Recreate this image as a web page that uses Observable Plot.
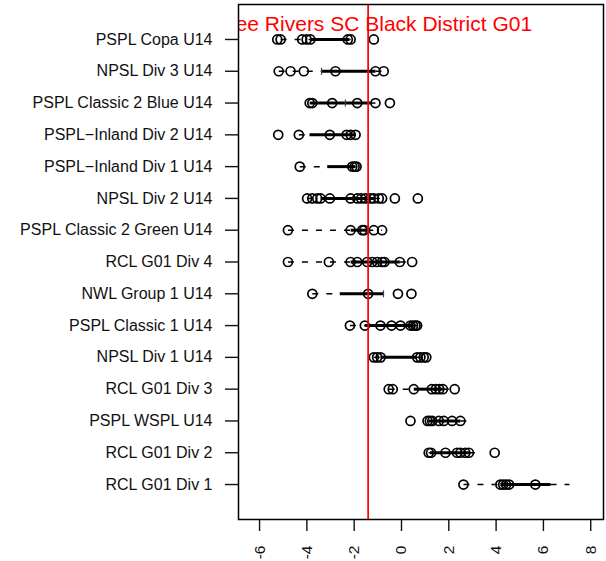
<!DOCTYPE html>
<html><head><meta charset="utf-8">
<script src="https://cdn.jsdelivr.net/npm/d3@7"></script>
<script src="https://cdn.jsdelivr.net/npm/@observablehq/plot@0.6"></script>
<style>body{margin:0;background:#fff}</style>
</head><body><div id="chart"></div>
<script>
const categories = ["PSPL Copa U14","NPSL Div 3 U14","PSPL Classic 2 Blue U14","PSPL−Inland Div 2 U14","PSPL−Inland Div 1 U14","NPSL Div 2 U14","PSPL Classic 2 Green U14","RCL G01 Div 4","NWL Group 1 U14","PSPL Classic 1 U14","NPSL Div 1 U14","RCL G01 Div 3","PSPL WSPL U14","RCL G01 Div 2","RCL G01 Div 1"];
const lo  = [-5.11, -5.19, -3.88, -4.34, -4.30, -3.99, -4.80, -4.80, -3.77, -2.18, -1.17, -0.54, 1.10, 1.15, 2.62];
const q1  = [-3.85, -3.38, -3.88, -3.89, -3.14, -3.42, -2.15, -2.15, -2.61, -1.55, -0.88, 0.52, 1.15, 1.20, 4.18];
const med = [null, -3.38, -2.37, null, null, null, null, null, -0.76, null, null, null, null, null, null];
const q3  = [-2.20, -1.10, -1.30, -1.94, -1.95, -1.17, -1.45, -0.07, -0.76, 0.45, 0.66, 1.75, 2.49, 2.85, 6.30];
const hi  = [-2.15, -0.75, -1.10, -1.94, -1.90, -0.82, -0.82, 0.45, -0.76, 0.66, 1.05, 2.25, 2.89, 3.30, 7.10];
const pts = [
  [-5.25, -5.11, -4.20, -4.01, -3.85, -2.27, -2.15, -1.17],
  [-5.19, -4.69, -4.13, -2.79, -1.10, -0.75],
  [-3.88, -3.77, -2.93, -1.87, -1.10, -0.49],
  [-5.21, -4.34, -3.03, -2.32, -2.15, -1.94],
  [-4.30, -2.08, -1.98, -1.90],
  [-3.99, -3.77, -3.56, -3.42, -3.03, -2.15, -1.87, -1.70, -1.52, -1.31, -1.17, -0.96, -0.82, -0.28, 0.69],
  [-4.80, -2.15, -1.66, -1.58, -1.17, -0.82],
  [-4.80, -3.07, -2.15, -1.87, -1.45, -1.24, -1.03, -0.82, -0.72, -0.07, 0.45],
  [-3.77, -1.41, -0.15, 0.42],
  [-2.18, -1.55, -0.89, -0.42, -0.04, 0.38, 0.49, 0.59, 0.66],
  [-1.17, -1.03, -0.88, 0.66, 0.80, 0.94, 1.05],
  [-0.54, -0.37, 0.52, 1.28, 1.45, 1.60, 1.75, 2.25],
  [0.38, 1.10, 1.20, 1.30, 1.58, 1.79, 2.14, 2.49],
  [1.15, 1.25, 1.86, 2.35, 2.49, 2.70, 2.85, 3.94],
  [2.62, 4.18, 4.30, 4.42, 4.55, 5.66]
];
const refValue = -1.41;
const title = "Three Rivers SC Black District G01";
const xTicks = [-6, -4, -2, 0, 2, 4, 6, 8];

const rows = categories.map((c, i) => ({cat: c, lo: lo[i], q1: q1[i], med: med[i], q3: q3[i], hi: hi[i]}));
const points = categories.flatMap((c, i) => pts[i].map(v => ({cat: c, v})));

// vertical tick symbol for the medians
const vtick = {draw(ctx, size) { const h = Math.sqrt(size / Math.PI); ctx.moveTo(0, -h); ctx.lineTo(0, h); }};

const chart = Plot.plot({
  width: 606, height: 561,
  marginLeft: 238, marginRight: 3, marginTop: 4, marginBottom: 42,
  style: {fontFamily: "'Liberation Sans', Arial, sans-serif", fontSize: "16px", color: "#111", background: "#fff"},
  x: {domain: [-6.89, 8.54]},
  y: {type: "point", domain: categories, padding: 1.1, round: false},
  marks: [
    Plot.axisY({tickSize: 13, tickPadding: 13, label: null, strokeWidth: 1.4}),
    Plot.axisX({ticks: xTicks, tickSize: 12, tickFormat: () => "", label: null, strokeWidth: 1.4}),
    Plot.text(xTicks, {x: d => d, text: d => String(d), frameAnchor: "bottom", dy: 26, rotate: -90, textAnchor: "end", lineAnchor: "middle", fontSize: 15.5, fill: "#111"}),
    Plot.link(rows, {x1: "lo", x2: "q1", y1: "cat", y2: "cat", stroke: "black", strokeWidth: 1.5, strokeDasharray: "6,8"}),
    Plot.link(rows, {x1: "q3", x2: "hi", y1: "cat", y2: "cat", stroke: "black", strokeWidth: 1.5, strokeDasharray: "6,8"}),
    Plot.link(rows, {x1: "q1", x2: "q3", y1: "cat", y2: "cat", stroke: "black", strokeWidth: 3}),
    Plot.dot(rows.filter(d => d.med != null), {x: "med", y: "cat", r: 3.5, symbol: vtick, stroke: "#444", strokeWidth: 1.2, fill: "none"}),
    Plot.dot(points, {x: "v", y: "cat", r: 4.5, stroke: "black", strokeWidth: 1.7, fill: "none"}),
    Plot.ruleX([refValue], {stroke: "red", strokeWidth: 1.7}),
    Plot.text([{t: title, x: refValue}], {x: "x", text: "t", frameAnchor: "top", lineAnchor: "middle", dy: 20, fill: "red", fontSize: 21, clip: true}),
    Plot.frame({stroke: "black", strokeWidth: 1.5})
  ]
});
document.getElementById("chart").appendChild(chart);
</script>
</body></html>
